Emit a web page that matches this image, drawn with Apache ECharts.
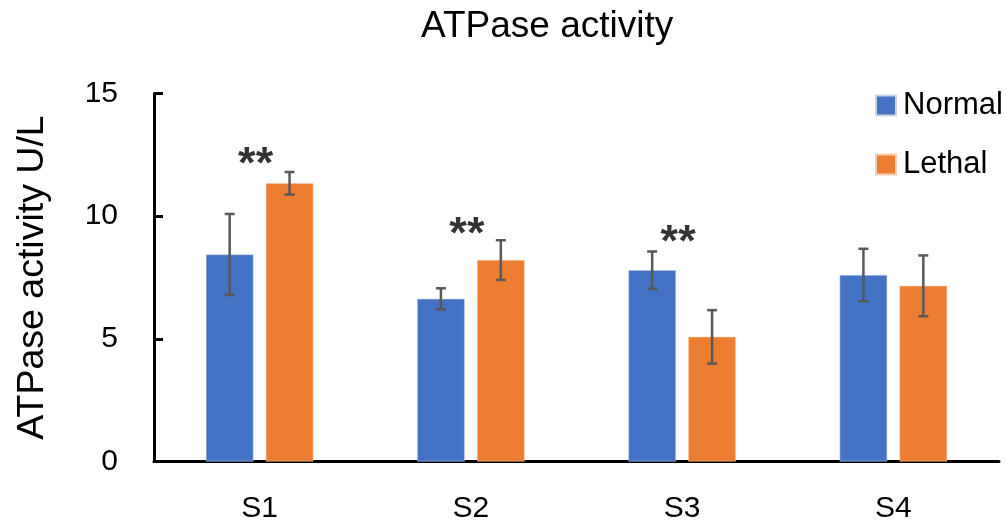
<!DOCTYPE html>
<html>
<head>
<meta charset="utf-8">
<style>
  html, body { margin: 0; padding: 0; background: #fff; }
  #main { width: 1006px; height: 529px; }
</style>
<script src="https://cdn.jsdelivr.net/npm/echarts@6/dist/echarts.min.js"></script>
</head>
<body>
<div id="main"></div>
<script>
// data
const categories = ['S1', 'S2', 'S3', 'S4'];
const normalVals = [8.44, 6.63, 7.80, 7.60];
const normalErr = [1.65, 0.43, 0.76, 1.07];
const lethalVals = [11.34, 8.21, 5.08, 7.16];
const lethalErr = [0.46, 0.81, 1.09, 1.24];
// where the ** marks sit (y value), '-' = none
const sigY = [12.43, 9.57, 9.23, '-'];
const yTicks = [0, 5, 10, 15];

const FONT = "'Liberation Sans', Arial, sans-serif";
const BAR_W = 0.225;   // bar width as part of a category band
const BAR_GAP = 0.26;  // gap between the two bars, as part of bar width

const chart = echarts.init(document.getElementById('main'));

// error bar for one series (side -1 = Normal, +1 = Lethal)
function errSeries(name, vals, errs, side) {
  return {
    name: name + ' err',
    type: 'custom',
    z: 5,
    renderItem: function (params, api) {
      const i = api.value(0);
      const band = api.size([1, 0])[0];
      const off = side * band * BAR_W * (1 + BAR_GAP) / 2;
      const top = api.coord([i, api.value(1) + api.value(2)]);
      const bot = api.coord([i, api.value(1) - api.value(2)]);
      const x = top[0] + off;
      const cap = 5;
      const style = { stroke: '#595959', lineWidth: 2.5 };
      return {
        type: 'group',
        children: [
          { type: 'line', shape: { x1: x, y1: top[1], x2: x, y2: bot[1] }, style: style },
          { type: 'line', shape: { x1: x - cap, y1: top[1], x2: x + cap, y2: top[1] }, style: style },
          { type: 'line', shape: { x1: x - cap, y1: bot[1], x2: x + cap, y2: bot[1] }, style: style }
        ]
      };
    },
    data: vals.map((v, i) => [i, v, errs[i]])
  };
}

const option = {
  animation: false,
  backgroundColor: '#fff',
  title: {
    text: 'ATPase activity',
    left: 416,
    top: 3,
    textStyle: { fontFamily: FONT, fontSize: 37, fontWeight: 'normal', color: '#000' }
  },
  legend: {
    data: ['Normal', 'Lethal'],
    orient: 'vertical',
    left: 870,
    top: 85,
    itemWidth: 20,
    itemHeight: 20,
    itemGap: 28,
    icon: 'rect',
    textStyle: { fontFamily: FONT, fontSize: 31, color: '#000', padding: [0, 0, 0, 2] }
  },
  grid: { left: 154, right: 7, top: 93.5, bottom: 67.5 },
  xAxis: {
    type: 'category',
    data: categories,
    axisLine: { lineStyle: { color: '#000', width: 3 } },
    axisTick: { inside: true, length: 9, lineStyle: { color: '#000', width: 3 } },
    axisLabel: { fontFamily: FONT, fontSize: 30, color: '#000', margin: 32 }
  },
  yAxis: {
    type: 'value',
    min: yTicks[0],
    max: yTicks[yTicks.length - 1],
    interval: 5,
    name: 'ATPase activity U/L',
    nameLocation: 'middle',
    nameGap: 102,
    nameTextStyle: { fontFamily: FONT, fontSize: 37.5, color: '#000' },
    axisLine: { show: true, lineStyle: { color: '#000', width: 3 } },
    axisTick: { show: true, inside: true, length: 9, lineStyle: { color: '#000', width: 3 } },
    axisLabel: { fontFamily: FONT, fontSize: 30, color: '#000', margin: 36 },
    splitLine: { show: false }
  },
  series: [
    {
      name: 'Normal',
      type: 'bar',
      barWidth: (BAR_W * 100) + '%',
      barGap: (BAR_GAP * 100) + '%',
      itemStyle: { color: '#4472C4', borderColor: '#c9d3e8', borderWidth: 0.5 },
      data: normalVals
    },
    {
      name: 'Lethal',
      type: 'bar',
      barWidth: (BAR_W * 100) + '%',
      barGap: (BAR_GAP * 100) + '%',
      itemStyle: { color: '#ED7D31', borderColor: '#f5cdb1', borderWidth: 0.5 },
      data: lethalVals
    },
    errSeries('Normal', normalVals, normalErr, -1),
    errSeries('Lethal', lethalVals, lethalErr, 1),
    {
      name: 'sig',
      type: 'scatter',
      symbolSize: 0,
      z: 6,
      label: {
        show: true,
        position: 'inside',
        offset: [-4, 9],
        formatter: '**',
        fontFamily: FONT,
        fontSize: 45,
        fontWeight: 'bold',
        color: '#000'
      },
      data: sigY
    }
  ]
};

chart.setOption(option);
</script>
</body>
</html>
